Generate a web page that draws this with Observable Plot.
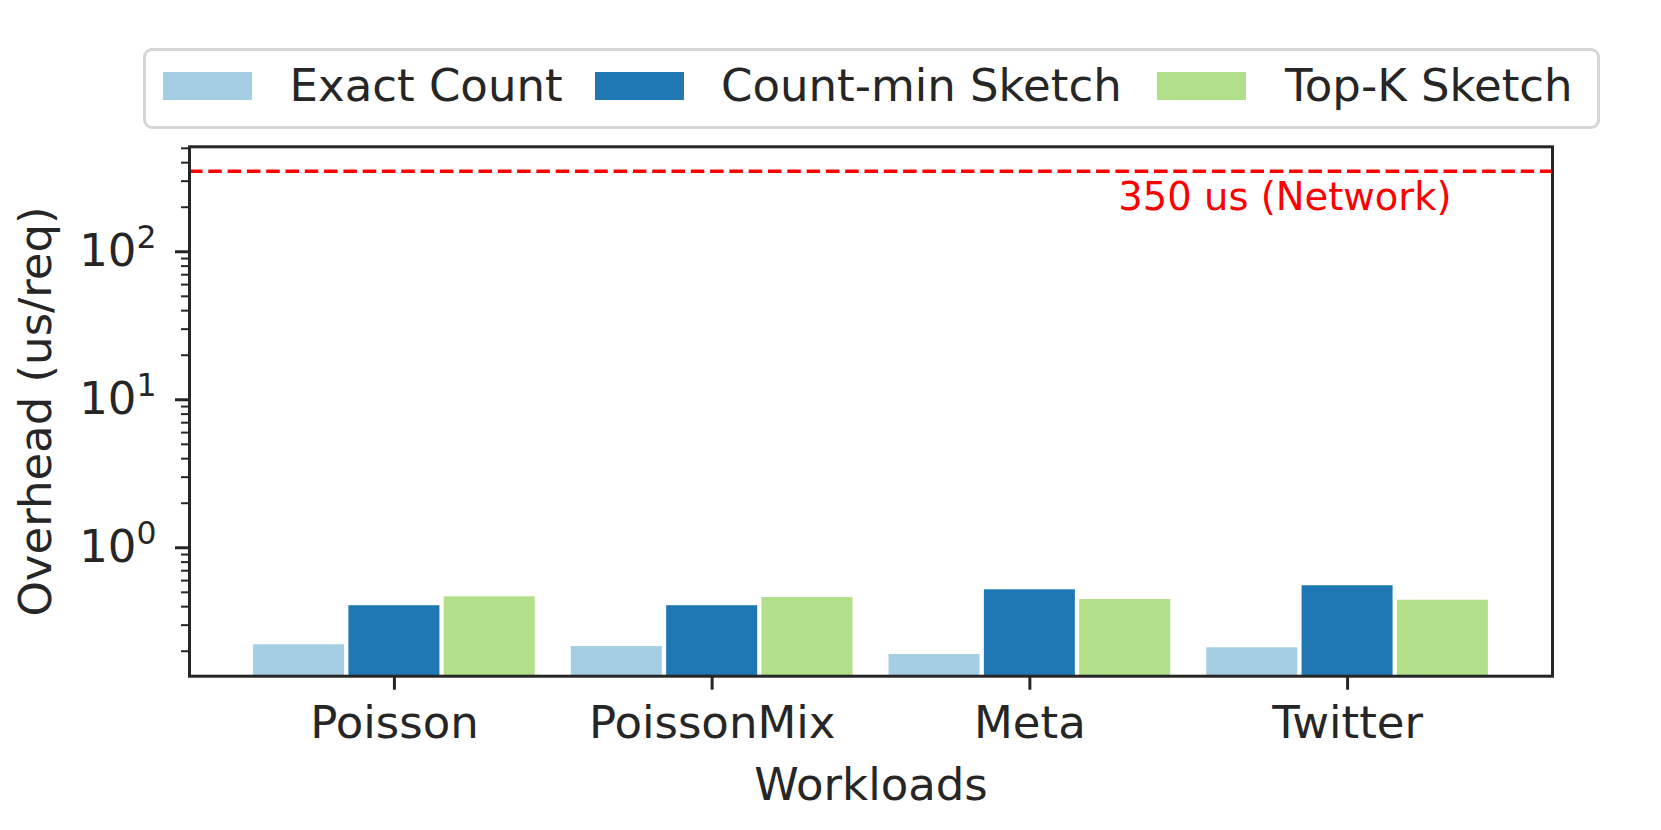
<!DOCTYPE html>
<html>
<head>
<meta charset="utf-8">
<script src="https://cdn.jsdelivr.net/npm/d3@7"></script>
<script src="https://cdn.jsdelivr.net/npm/@observablehq/plot@0.6"></script>
<style>
  html, body { margin: 0; padding: 0; background: white; }
  #wrap { width: 1661px; font-family: "DejaVu Sans", sans-serif; color: #262626; }
  #legend { position: relative; width: 1661px; height: 136px; }
  #legend .box { position: absolute; left: 143px; top: 48px; width: 1457px; height: 81px; box-sizing: border-box; border: 3px solid #d6d6d6; border-radius: 9px; }
  #legend .sw { position: absolute; top: 71.5px; width: 89px; height: 28px; }
  #legend .lb { position: absolute; top: 63px; font-size: 45px; line-height: 45px; white-space: nowrap; }
</style>
</head>
<body>
<div id="wrap">
  <div id="legend"><div class="box"></div></div>
  <div id="chart"></div>
</div>
<script>
// ---- data ----
const workloads = ["Poisson", "PoissonMix", "Meta", "Twitter"];
const series = ["Exact Count", "Count-min Sketch", "Top-K Sketch"];
const exactCount = [0.221, 0.215, 0.190, 0.211];
const countMin = [0.406, 0.406, 0.520, 0.554];
const topK = [0.466, 0.461, 0.447, 0.442];
const colors = ["#a6cee3", "#1f78b4", "#b2df8a"];
const networkLatency = 350;
const networkLabel = "350 us (Network)";
const yDomain = [0.1356, 512];
const xDomain = [-0.645, 3.645];
const barWidth = 0.3;
const majorTicks = [1, 10, 100];
const minorTicks = [0.2,0.3,0.4,0.5,0.6,0.7,0.8,0.9, 2,3,4,5,6,7,8,9, 20,30,40,50,60,70,80,90, 200,300,400,500];
const yLabel = "Overhead (us/req)";
const xLabel = "Workloads";

const valuesBySeries = [exactCount, countMin, topK];
const data = [];
workloads.forEach((w, i) => series.forEach((s, j) => data.push({workload: w, wi: i, series: s, sj: j, value: valuesBySeries[j][i]})));

// ---- legend (HTML) ----
const legend = document.getElementById("legend");
const swLeft = [162.5, 595.3, 1156.8];
const lbLeft = [289.6, 721, 1285];
series.forEach((s, j) => {
  const sw = document.createElement("div");
  sw.className = "sw"; sw.style.left = swLeft[j] + "px"; sw.style.background = colors[j];
  legend.appendChild(sw);
  const lb = document.createElement("div");
  lb.className = "lb"; lb.style.left = lbLeft[j] + "px"; lb.textContent = s;
  legend.appendChild(lb);
});

const ink = "#262626";
const center = d => d.wi + (d.sj - (series.length - 1) / 2) * barWidth;

const chart = Plot.plot({
  width: 1661,
  height: 694,
  marginTop: 10.3,
  marginBottom: 154.3,
  marginLeft: 189,
  marginRight: 109,
  style: {fontFamily: "DejaVu Sans", fontSize: "45px", color: ink, background: "white"},
  x: {domain: xDomain},
  y: {type: "log", domain: yDomain},
  color: {domain: series, range: colors},
  marks: [
    Plot.rectY(data, {x1: d => center(d) - barWidth / 2, x2: d => center(d) + barWidth / 2, y1: yDomain[0], y2: "value", fill: "series", insetLeft: 2.15, insetRight: 2.15}),
    Plot.ruleY([networkLatency], {stroke: "red", strokeWidth: 3.5, strokeDasharray: "13.5,5.8"}),
    Plot.text([networkLabel], {y: [networkLatency], text: d => d, frameAnchor: "right", textAnchor: "end", dx: -101, dy: 26, fill: "red", fontSize: 38.5}),
    Plot.axisY(minorTicks, {tickSize: 8, strokeWidth: 2, stroke: ink, tickFormat: () => "", label: null}),
    Plot.axisY(majorTicks, {tickSize: 14, strokeWidth: 3, stroke: ink, tickPadding: 19, fontSize: 45, fill: ink,
      tickFormat: d => "10^" + Math.round(Math.log10(d)),
      label: yLabel, labelAnchor: "center", labelArrow: "none", labelOffset: 170}),
    Plot.axisX(workloads.map((w, i) => i), {tickSize: 14, strokeWidth: 3, stroke: ink, tickPadding: 16, fontSize: 45, fill: ink,
      tickFormat: i => workloads[i],
      label: xLabel, labelAnchor: "center", labelArrow: "none", labelOffset: 124}),
    Plot.frame({stroke: ink, strokeWidth: 3})
  ]
});

// render "10^k" tick labels as a base with a superscript exponent
d3.select(chart).selectAll("text").each(function() {
  const t = this.textContent;
  const m = /^10\^(-?\d+)$/.exec(t);
  if (!m) return;
  const sel = d3.select(this);
  const tspans = sel.selectAll("tspan");
  const target = tspans.empty() ? sel : d3.select(tspans.nodes()[0]);
  target.text(null);
  target.append("tspan").text("10");
  target.append("tspan").attr("font-size", "0.7em").attr("dy", "-0.58em").text(m[1]);
});

document.getElementById("chart").appendChild(chart);
</script>
</body>
</html>
